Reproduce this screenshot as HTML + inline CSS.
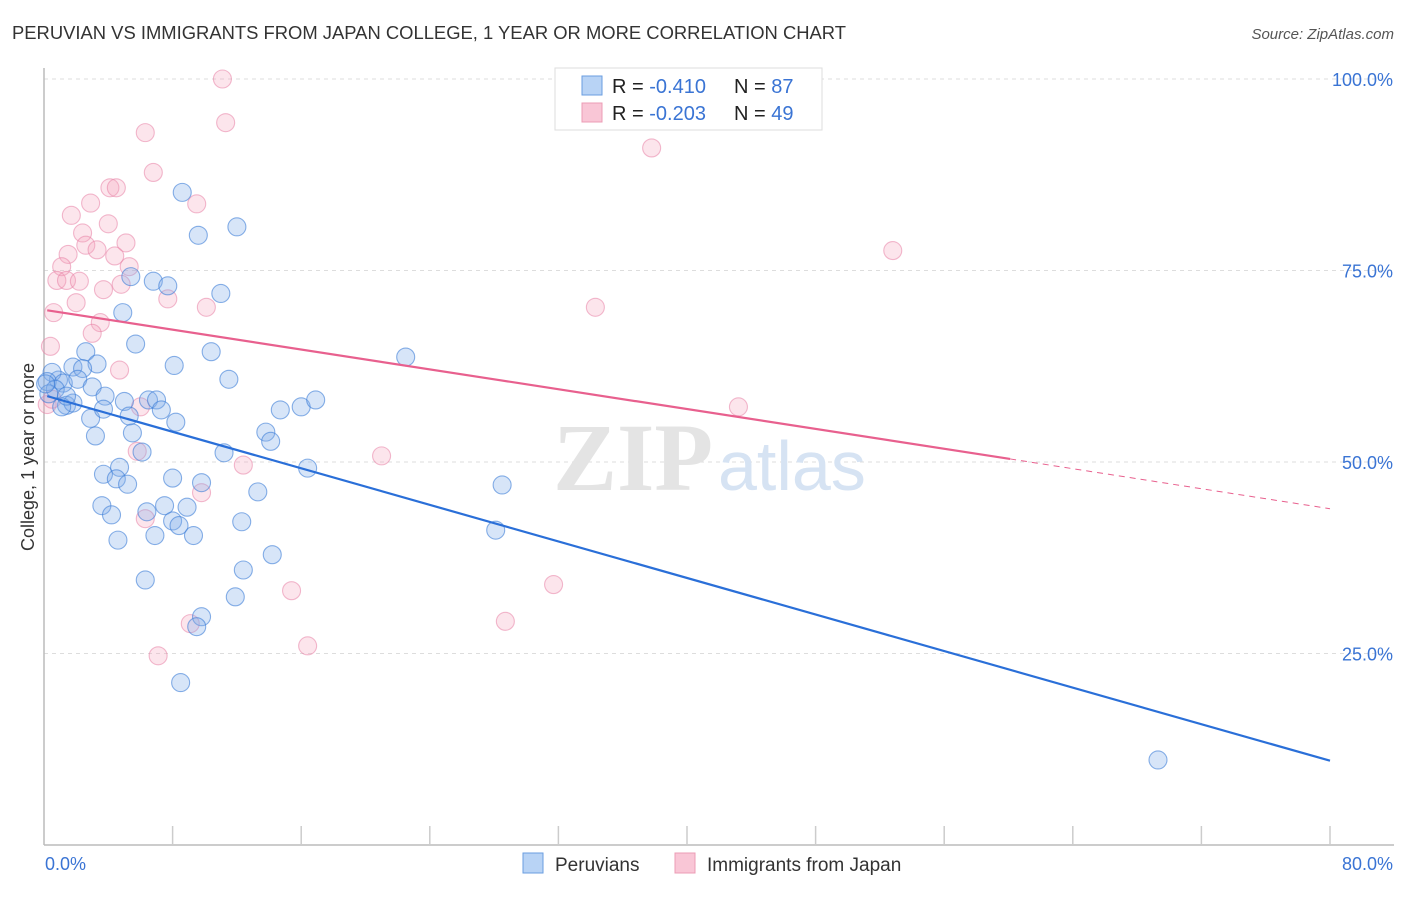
<!DOCTYPE html>
<html><head><meta charset="utf-8">
<style>
html,body{margin:0;padding:0;background:#fff;}
body{width:1406px;height:892px;overflow:hidden;font-family:"Liberation Sans",sans-serif;}
</style></head>
<body>
<svg id="chart" width="1406" height="892" xmlns="http://www.w3.org/2000/svg">
<text x="12" y="39" font-size="18" fill="#333" font-family="Liberation Sans, sans-serif" textLength="834" lengthAdjust="spacingAndGlyphs">PERUVIAN VS IMMIGRANTS FROM JAPAN COLLEGE, 1 YEAR OR MORE CORRELATION CHART</text>
<text x="1394" y="39" font-size="15" fill="#555" font-style="italic" text-anchor="end">Source: ZipAtlas.com</text>
<g id="grid"></g>
<g>
<text x="553" y="490" font-size="96" fill="#e4e4e4" font-family="Liberation Serif, serif" font-weight="bold">ZIP</text>
<text x="718" y="490" font-size="70" fill="#d6e3f3" font-family="Liberation Sans, sans-serif">atlas</text>
</g>
<g id="axes"></g>
<g id="pts-pink"></g>
<g id="pts-blue"></g>
<g id="trends"></g>
<text transform="translate(34,457) rotate(-90)" font-size="18" fill="#333" text-anchor="middle">College, 1 year or more</text>
<g>
<rect x="555" y="68" width="267" height="62" fill="#fff" stroke="#ddd"/>
<rect x="582" y="76" width="20" height="19" fill="#b8d3f5" stroke="#6a9ee0"/>
<rect x="582" y="103" width="20" height="19" fill="#f9c6d6" stroke="#ec9cb5"/>
<text x="612" y="93" font-size="20" fill="#222">R = <tspan fill="#3a74d4">-0.410</tspan><tspan x="734">N = </tspan><tspan fill="#3a74d4">87</tspan></text>
<text x="612" y="120" font-size="20" fill="#222">R = <tspan fill="#3a74d4">-0.203</tspan><tspan x="734">N = </tspan><tspan fill="#3a74d4">49</tspan></text>
</g>
<g>
<rect x="523" y="853" width="20" height="20" fill="#b8d3f5" stroke="#6a9ee0"/>
<text x="555" y="871" font-size="19" fill="#333">Peruvians</text>
<rect x="675" y="853" width="20" height="20" fill="#f9c6d6" stroke="#ec9cb5"/>
<text x="707" y="871" font-size="19" fill="#333">Immigrants from Japan</text>
</g>
</svg>
<script>
const yTicks=[25,50,75,100];
const yTickLabels=["25.0%","50.0%","75.0%","100.0%"];
const xTickLabels=["0.0%","80.0%"];
const blueX=[8.6,9.6,12.0,5.4,6.8,7.7,11.0,4.9,5.7,2.6,10.4,8.1,3.3,1.8,2.4,11.5,0.9,0.5,0.2,1.2,2.1,3.0,3.8,5.0,6.5,7.0,7.3,8.2,1.4,1.8,2.9,3.7,3.2,5.3,5.5,6.1,11.2,13.8,14.1,14.7,16.0,16.9,22.5,16.4,3.7,4.7,4.5,5.2,8.0,9.8,13.3,3.6,4.2,6.4,7.5,8.9,8.0,8.4,6.9,9.3,4.6,12.3,14.2,12.4,6.3,11.9,9.8,9.5,8.5,28.5,28.1,69.3,0.7,1.1,0.3,0.1,1.4];
const blueY=[85.2,79.6,80.7,74.2,73.6,73.0,72.0,69.5,65.4,64.4,64.4,62.6,62.8,62.4,62.2,60.8,60.7,61.7,60.5,60.3,60.8,59.8,58.6,57.9,58.1,58.1,56.8,55.2,57.4,57.7,55.7,56.9,53.4,56.0,53.8,51.3,51.2,53.9,52.7,56.8,57.2,58.1,63.7,49.2,48.4,49.3,47.8,47.1,47.9,47.3,46.1,44.3,43.1,43.5,44.3,44.1,42.3,41.7,40.4,40.4,39.8,42.2,37.9,35.9,34.6,32.4,29.8,28.5,21.2,47.0,41.1,11.1,59.5,57.2,58.9,60.2,58.6];
const pinkX=[11.1,11.3,6.3,6.8,37.8,4.1,4.5,9.5,2.9,1.7,4.0,2.4,5.1,2.6,3.3,1.5,4.4,1.1,5.3,0.8,1.4,2.2,4.8,3.7,7.7,52.8,34.3,10.1,2.0,0.6,3.5,3.0,4.7,0.4,6.0,43.2,12.4,21.0,5.8,6.3,9.8,31.7,15.4,28.7,9.1,16.4,7.1,0.2,0.5];
const pinkY=[100.0,94.3,93.0,87.8,91.0,85.8,85.8,83.7,83.8,82.2,81.1,79.9,78.6,78.3,77.7,77.1,76.9,75.5,75.5,73.7,73.7,73.6,73.2,72.5,71.3,77.6,70.2,70.2,70.8,69.5,68.2,66.8,62.0,65.1,57.2,57.2,49.6,50.8,51.4,42.6,46.0,34.0,33.2,29.2,28.9,26.0,24.7,57.5,58.2];
const blueTrend=[0.2,58.6,80,11.0];
const pinkTrend=[0.2,69.8,60.1,50.4];
const pinkTrendDash=[60.1,50.4,80,43.9];

const NS="http://www.w3.org/2000/svg";
const X0=44,X1=1330,Y0=845,Y100=79;
const sx=v=>X0+(v/80)*(X1-X0);
const sy=v=>Y0-(v/100)*(Y0-Y100);
function mk(tag,attrs,parent){const e=document.createElementNS(NS,tag);for(const k in attrs)e.setAttribute(k,attrs[k]);parent.appendChild(e);return e;}
const grid=document.getElementById('grid'),axes=document.getElementById('axes');
yTicks.forEach((t,i)=>{
  const l=mk('line',{x1:44,x2:1394,y1:sy(t),y2:sy(t),stroke:'#ddd','stroke-dasharray':'4,4'},grid);
  
  
  const tx=mk('text',{x:1393,y:sy(t)+7,'font-size':18,fill:'#3a74d4','text-anchor':'end'},axes);
  tx.textContent=yTickLabels[i];
  
  
});
let a=mk('line',{x1:44,x2:44,y1:68,y2:Y0,stroke:'#bbb','stroke-width':1.5},axes);


a=mk('line',{x1:44,x2:1394,y1:Y0,y2:Y0,stroke:'#bbb','stroke-width':1.5},axes);


for(let v=8;v<=80;v+=8){
  const t=mk('line',{x1:sx(v),x2:sx(v),y1:826,y2:Y0,stroke:'#ccc','stroke-width':1.5},axes);
  
  
}
let xl=mk('text',{x:45,y:870,'font-size':18,fill:'#3a74d4'},axes);xl.textContent=xTickLabels[0];


xl=mk('text',{x:1393,y:870,'font-size':18,fill:'#3a74d4','text-anchor':'end'},axes);xl.textContent=xTickLabels[1];


function pts(xs,ys,g,fill,stroke,name){
  xs.forEach((x,i)=>{
    const c=mk('circle',{cx:sx(x),cy:sy(ys[i]),r:9,fill:fill,stroke:stroke,'stroke-width':1.1},g);
    
    
  });
}
pts(pinkX,pinkY,document.getElementById('pts-pink'),'rgba(244,160,188,0.28)','rgba(232,130,165,0.55)','japan-point');
pts(blueX,blueY,document.getElementById('pts-blue'),'rgba(130,175,232,0.32)','rgba(60,125,215,0.6)','peruvian-point');
const tr=document.getElementById('trends');
let L=mk('line',{x1:sx(blueTrend[0]),y1:sy(blueTrend[1]),x2:sx(blueTrend[2]),y2:sy(blueTrend[3]),stroke:'#2a6fd8','stroke-width':2.2},tr);


L=mk('line',{x1:sx(pinkTrend[0]),y1:sy(pinkTrend[1]),x2:sx(pinkTrend[2]),y2:sy(pinkTrend[3]),stroke:'#e8608e','stroke-width':2.2},tr);


L=mk('line',{x1:sx(pinkTrendDash[0]),y1:sy(pinkTrendDash[1]),x2:sx(pinkTrendDash[2]),y2:sy(pinkTrendDash[3]),stroke:'#e8608e','stroke-width':1,'stroke-dasharray':'6,5'},tr);


</script>
</body></html>
